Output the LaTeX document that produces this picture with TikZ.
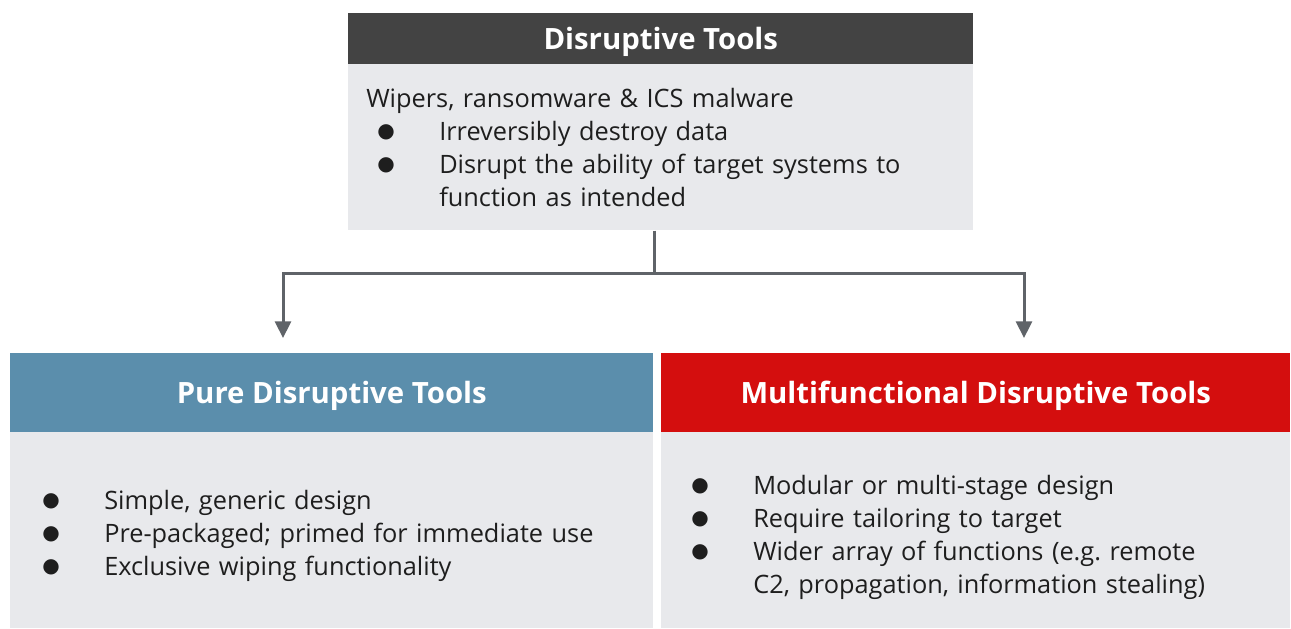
\documentclass[tikz,border=0pt]{standalone}
\usepackage{fontspec}
\setmainfont{Open Sans}
\newfontfamily\bulfont{DejaVu Sans}
\usetikzlibrary{arrows.meta}

\definecolor{headgray}{RGB}{67,67,67}
\definecolor{bodygray}{RGB}{232,233,236}
\definecolor{pureblue}{RGB}{91,142,172}
\definecolor{multired}{RGB}{212,14,14}
\definecolor{linegray}{RGB}{95,99,104}
\definecolor{textblack}{RGB}{30,30,30}

\newcommand{\itm}[1]{\makebox[46.5pt][l]{\raisebox{2pt}{\bulfont\fontsize{15}{15}\selectfont ●}}#1}
\newcommand{\cont}{\hspace*{46.5pt}}

\tikzset{
  head/.style={rectangle,anchor=north west,inner sep=0pt,text depth=0pt,text=white,font=\fontsize{22}{26}\selectfont\bfseries},
  body/.style={rectangle,anchor=north west,inner sep=0pt,fill=bodygray},
  list/.style={anchor=base west,inner sep=0pt,align=left,text width=#1,text=textblack,font=\fontsize{19}{24.75}\selectfont\frenchspacing},
  conn/.style={draw=linegray,line width=2.25pt,-{Triangle[width=12pt,length=12.5pt]}}
}

\begin{document}
\begin{tikzpicture}[x=0.75pt,y=-0.75pt]
\useasboundingbox (0,0) rectangle (1291,628);

% top box
\node[head,fill=headgray,minimum width=468.75pt,minimum height=38.25pt] (tophead) at (348,13) {Disruptive Tools};
\node[body,minimum width=468.75pt,minimum height=124.5pt] (topbody) at (348,64) {};
\node[list=440pt] (toptext) at (366,107) {Wipers, ransomware \& ICS malware\\
\hspace*{8.25pt}\itm{Irreversibly destroy data}\\
\hspace*{8.25pt}\itm{Disrupt the ability of target systems to}\\
\hspace*{8.25pt}\cont function as intended};

% left box
\node[head,fill=pureblue,minimum width=482.25pt,minimum height=59.25pt] (purehead) at (10,353) {Pure Disruptive Tools};
\node[body,minimum width=482.25pt,minimum height=147pt] (purebody) at (10,432) {};
\node[list=460pt] (puretext) at (42,509) {\itm{Simple, generic design}\\
\itm{Pre-packaged; primed for immediate use}\\
\itm{Exclusive wiping functionality}};

% right box
\node[head,fill=multired,minimum width=471.75pt,minimum height=59.25pt] (multihead) at (661,353) {Multifunctional Disruptive Tools};
\node[body,minimum width=471.75pt,minimum height=147pt] (multibody) at (661,432) {};
\node[list=460pt] (multitext) at (691,494) {\itm{Modular or multi-stage design}\\
\itm{Require tailoring to target}\\
\itm{Wider array of functions (e.g. remote}\\
\cont C2, propagation, information stealing)};

% connectors
\coordinate (split) at (654,273);
\coordinate (ltip) at (283,338);
\coordinate (rtip) at (1024,338);
\draw[conn] (topbody.south -| split) -- (split) -| (ltip);
\draw[conn] (split) -| (rtip);

\end{tikzpicture}
\end{document}
